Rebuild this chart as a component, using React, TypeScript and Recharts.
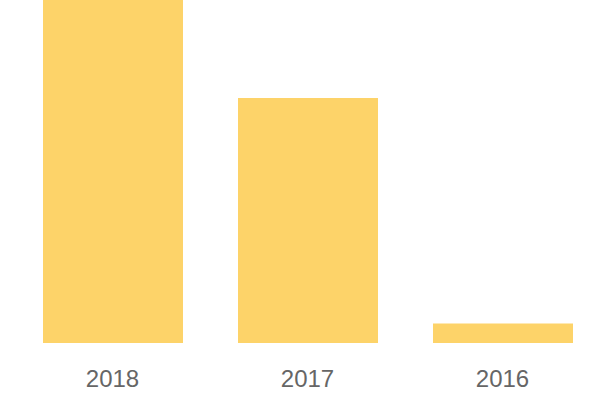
import { BarChart, Bar, XAxis, YAxis } from "recharts"

const years = ["2018", "2017", "2016"]
const values = [35, 25, 2]

const data = years.map((year, i) => ({ year, value: values[i] }))

export default function App(): React.ReactNode {
  return (
    <div style={{ position: "absolute", left: 0, top: 0, width: 600, height: 400, background: "#fff" }}>
      <BarChart width={600} height={400} data={data} margin={{ top: 0, right: 0, bottom: 0, left: 15 }}>
        <XAxis
          dataKey="year"
          axisLine={false}
          tickLine={false}
          height={57}
          tickMargin={21}
          tick={{ fill: "#666", fontSize: 24, fontFamily: "Liberation Sans, Arial, sans-serif" }}
        />
        <YAxis hide domain={[0, 35]} />
        <Bar dataKey="value" fill="#fdd369" barSize={140} isAnimationActive={false} />
      </BarChart>
    </div>
  )
}
